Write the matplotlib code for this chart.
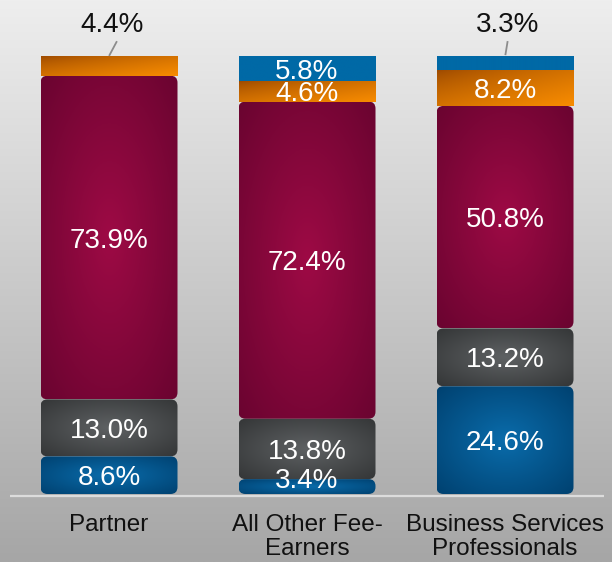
import numpy as np
import matplotlib
matplotlib.use("Agg")
import matplotlib.pyplot as plt
from matplotlib.patches import FancyBboxPatch
from matplotlib.colors import to_rgb

plt.rcParams['font.family'] = ['Liberation Sans', 'DejaVu Sans']

categories = ["Partner", "All Other Fee-\nEarners", "Business Services\nProfessionals"]
series_names = ["Blue", "Grey", "Maroon", "Orange", "Blue top"]
blue_bottom = [8.6, 3.4, 24.6]
grey = [13.0, 13.8, 13.2]
maroon = [73.9, 72.4, 50.8]
orange = [4.4, 4.6, 8.2]
blue_top = [0.0, 5.8, 3.3]
series = [blue_bottom, grey, maroon, orange, blue_top]

# styles: (kind, color_a, color_b)
styles = [
    ("radial", "#0a6cab", "#004170"),
    ("radial", "#5e6163", "#343637"),
    ("radial", "#9e0a45", "#6a0430"),
    ("linear", "#9a4800", "#f88c00"),
    ("flat", "#0069a6", "#0069a6"),
]
rounded = [True, True, True, False, False]

W, H = 612, 562
fig = plt.figure(figsize=(W / 100, H / 100), dpi=100)
ax = fig.add_axes([0, 0, 1, 1])
px_per_x = 198.0
px_per_y = 4.38
base_px = 494.0
x0 = (0 - 10) / px_per_x - 0.5
x1 = (W - 10) / px_per_x - 0.5
y0 = (base_px - H) / px_per_y
y1 = base_px / px_per_y
ax.set_xlim(x0, x1)
ax.set_ylim(y0, y1)
ax.axis("off")

# background vertical gradient
bg = np.linspace(0, 1, 256)[:, None]
top_c = np.array(to_rgb("#eeeeee"))
bot_c = np.array(to_rgb("#a6a6a6"))
bgimg = top_c[None, None, :] * (1 - bg[..., None]) + bot_c[None, None, :] * bg[..., None]
bgimg = np.repeat(bgimg, 2, axis=1)
ax.imshow(bgimg, extent=[x0, x1, y0, y1], aspect="auto", zorder=0, origin="upper")

bar_w = 137 / px_per_x
r_px = 7
aspect = px_per_x / px_per_y


def grad_image(kind, ca, cb, n=120):
    a = np.array(to_rgb(ca))
    b = np.array(to_rgb(cb))
    u, v = np.meshgrid(np.linspace(-1, 1, n), np.linspace(-1, 1, n))
    if kind == "radial":
        t = np.clip(np.sqrt(u ** 2 + v ** 2) / np.sqrt(2), 0, 1)
    elif kind == "linear":
        t = np.clip((u + v + 2) / 4, 0, 1)
        t = t ** 0.7
    else:
        t = np.zeros_like(u)
    return a * (1 - t[..., None]) + b * t[..., None]


xs = np.arange(len(categories))
bottoms = np.zeros(len(categories))
for si, vals in enumerate(series):
    kind, ca, cb = styles[si]
    for i, val in enumerate(vals):
        if val <= 0:
            continue
        left = xs[i] - bar_w / 2
        bot = bottoms[i]
        if rounded[si]:
            box = "round,pad=0,rounding_size=%f" % (r_px / px_per_x)
        else:
            box = "square,pad=0"
        patch = FancyBboxPatch((left, bot), bar_w, val, boxstyle=box,
                               mutation_aspect=aspect, facecolor="none",
                               edgecolor="none", zorder=2)
        ax.add_patch(patch)
        img = grad_image(kind, ca, cb)
        im = ax.imshow(img, extent=[left, left + bar_w, bot, bot + val],
                       aspect="auto", origin="upper", zorder=2)
        im.set_clip_path(patch)
    bottoms += np.array(vals)

# labels
fs_val = 20
bottoms = np.zeros(len(categories))
for si, vals in enumerate(series):
    for i, val in enumerate(vals):
        if val <= 0:
            continue
        mid = bottoms[i] + val / 2
        txt = f"{val:.1f}%"
        if val < 4.5 and bottoms[i] + val >= 99:
            ty = (base_px - 22) / px_per_y
            tx = xs[i] + (113 - 109.5) / px_per_x if si == 3 else xs[i] + (508 - 505.5) / px_per_x
            ax.text(tx, ty, txt, ha="center", va="center_baseline", fontsize=fs_val,
                    color="#111111", zorder=4)
            top = bottoms[i] + val
            if si == 3:
                lx = [xs[i] + 7.5 / px_per_x, xs[i] + 0.5 / px_per_x]
            else:
                lx = [xs[i] + 2.5 / px_per_x, xs[i] + 0.5 / px_per_x]
            ly = [(base_px - 42) / px_per_y, top + 0.3]
            ax.plot(lx, ly, color="#8c8c8c", lw=1.3, zorder=4)
        else:
            y = max(mid, 3.7)
            ax.text(xs[i], y, txt, ha="center", va="center_baseline", fontsize=fs_val,
                    color="white", zorder=4)
    bottoms += np.array(vals)

# baseline
ax.plot([x0 + 10 / px_per_x, x0 + 604 / px_per_x], [-0.35, -0.35],
        color="#dcdcdc", lw=1.6, zorder=3, solid_capstyle="butt")

# category labels
for i, c in enumerate(categories):
    ax.text(xs[i], (base_px - 514) / px_per_y, c, ha="center", va="top",
            fontsize=17.5, color="#111111", linespacing=1.1, zorder=4)

fig.savefig("out.png", dpi=100)
